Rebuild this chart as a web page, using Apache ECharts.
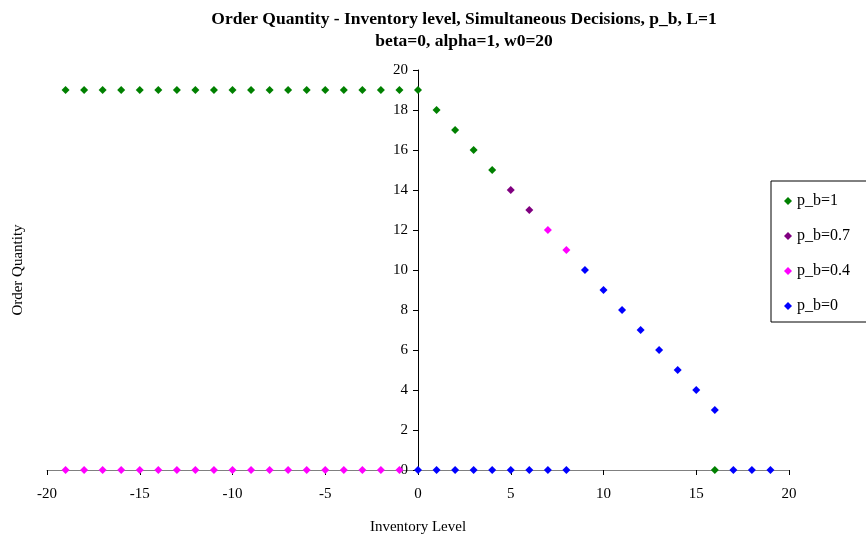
<!DOCTYPE html>
<html>
<head>
<meta charset="utf-8">
<script src="https://cdn.jsdelivr.net/npm/echarts@6/dist/echarts.min.js"></script>
<style>
html,body{margin:0;padding:0;background:#fff;}
#chart{width:866px;height:540px;}
</style>
</head>
<body>
<div id="chart"></div>
<script>
// ---- Data ----
const seriesNames = ["p_b=1", "p_b=0.7", "p_b=0.4", "p_b=0"];

const xPb1 = [-19,-18,-17,-16,-15,-14,-13,-12,-11,-10,-9,-8,-7,-6,-5,-4,-3,-2,-1,0,1,2,3,4,16];
const yPb1 = [19,19,19,19,19,19,19,19,19,19,19,19,19,19,19,19,19,19,19,19,18,17,16,15,0];

const xPb07 = [5,6];
const yPb07 = [14,13];

const xPb04 = [-19,-18,-17,-16,-15,-14,-13,-12,-11,-10,-9,-8,-7,-6,-5,-4,-3,-2,-1,7,8];
const yPb04 = [0,0,0,0,0,0,0,0,0,0,0,0,0,0,0,0,0,0,0,12,11];

const xPb0 = [0,1,2,3,4,5,6,7,8,9,10,11,12,13,14,15,16,17,18,19];
const yPb0 = [0,0,0,0,0,0,0,0,0,10,9,8,7,6,5,4,3,0,0,0];

const titleLines = ["Order Quantity - Inventory level, Simultaneous Decisions, p_b, L=1", "beta=0, alpha=1, w0=20"];
const xAxisTitle = "Inventory Level";
const yAxisTitle = "Order Quantity";

const colors = ["#008000", "#800080", "#FF00FF", "#0000FF"];

// ---- Build chart ----
const font = '"Liberation Serif", "Times New Roman", serif';
function pairs(xs, ys) { return xs.map((x, i) => [x, ys[i]]); }
const allData = [pairs(xPb1, yPb1), pairs(xPb07, yPb07), pairs(xPb04, yPb04), pairs(xPb0, yPb0)];

const chart = echarts.init(document.getElementById('chart'), null, {renderer: 'canvas'});
chart.setOption({
  animation: false,
  backgroundColor: '#fff',
  title: {
    text: titleLines.join('\n'),
    top: 3,
    left: 459,
    textAlign: 'center',
    textStyle: {fontFamily: font, fontWeight: 'bold', fontSize: 17.5, color: '#000', lineHeight: 22}
  },
  grid: {left: 47, right: 77, top: 70, bottom: 68, containLabel: false},
  legend: {
    orient: 'vertical',
    left: 771,
    top: 181,
    data: seriesNames,
    icon: 'diamond',
    itemWidth: 8,
    itemHeight: 8,
    itemGap: 19,
    padding: [12, 20, 8, 13],
    borderColor: '#000',
    borderWidth: 1,
    textStyle: {fontFamily: font, fontSize: 16, color: '#000', padding: [0, 0, 0, 0]}
  },
  xAxis: {
    type: 'value',
    min: -20, max: 20, interval: 5,
    name: xAxisTitle,
    nameLocation: 'middle',
    nameGap: 50,
    nameTextStyle: {fontFamily: font, fontSize: 15, color: '#000'},
    axisLine: {onZero: true, lineStyle: {color: '#808080', width: 1}},
    axisTick: {show: true, length: 5, lineStyle: {color: '#000'}},
    axisLabel: {fontFamily: font, fontSize: 15, color: '#000', margin: 17},
    splitLine: {show: false}
  },
  yAxis: {
    type: 'value',
    min: 0, max: 20, interval: 2,
    position: 'left',
    offset: -371,
    axisLine: {onZero: false, lineStyle: {color: '#000', width: 1}},
    axisTick: {show: true, length: 5, lineStyle: {color: '#000'}},
    axisLabel: {fontFamily: font, fontSize: 15, color: '#000', margin: 10},
    splitLine: {show: false}
  },
  graphic: [{
    type: 'text',
    left: 11,
    top: 'middle',
    rotation: Math.PI / 2,
    style: {text: yAxisTitle, font: '15px ' + font, fill: '#000'}
  }],
  series: seriesNames.map((n, i) => ({
    name: n,
    type: 'scatter',
    symbol: 'diamond',
    symbolSize: 8,
    itemStyle: {color: colors[i], opacity: 1},
    data: allData[i]
  }))
});
</script>
</body>
</html>
